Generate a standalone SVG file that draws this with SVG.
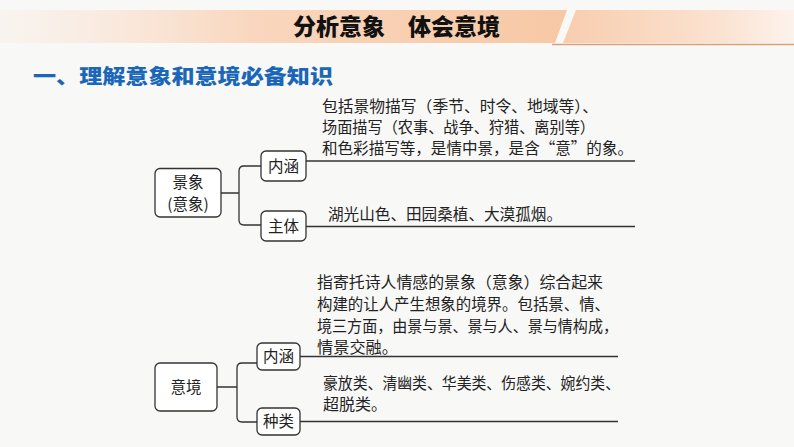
<svg xmlns="http://www.w3.org/2000/svg" width="794" height="447" viewBox="0 0 794 447">
<defs>
<linearGradient id="bandL" x1="0" y1="0" x2="1" y2="0">
<stop offset="0" stop-color="#fbe3d2" stop-opacity="0.2"/>
<stop offset="0.45" stop-color="#f9d6bd"/>
<stop offset="1" stop-color="#f7c8a5"/>
</linearGradient>
<linearGradient id="bandR" x1="0" y1="0" x2="1" y2="0">
<stop offset="0" stop-color="#f8cdae"/>
<stop offset="0.7" stop-color="#fbe3d2"/>
<stop offset="1" stop-color="#fdf3ec"/>
</linearGradient>
<linearGradient id="lineL" x1="0" y1="0" x2="1" y2="0">
<stop offset="0" stop-color="#e6c3a8" stop-opacity="0.3"/>
<stop offset="1" stop-color="#d6a07a"/>
</linearGradient>
<style>
.box{fill:#ffffff;stroke:#333333;stroke-width:1.3}
.lbl{font-family:"Noto Sans CJK SC","Noto Sans CJK JP",sans-serif;font-size:15.5px;fill:#222222;text-anchor:middle}
.body{font-family:"Noto Sans CJK SC","Noto Sans CJK JP",sans-serif;font-size:15.5px;fill:#222222}
.conn{fill:none;stroke:#333333;stroke-width:1.3}
</style>
</defs>
<rect x="0" y="0" width="794" height="447" fill="#f8f8f7"/>
<g id="banner">
<polygon points="0,10 567,10 555,43 0,43" fill="url(#bandL)"/>
<polygon points="576,10 794,10 794,43 563,43" fill="url(#bandR)"/>
<line x1="0" y1="6" x2="578" y2="6" stroke="url(#lineL)" stroke-width="1.5"/>
<line x1="552" y1="44.5" x2="794" y2="44.5" stroke="#d6a07a" stroke-width="1.5"/>
<text x="396.5" y="35" font-family="'Noto Sans CJK SC',sans-serif" font-size="22.5" font-weight="900" fill="#111111" text-anchor="middle" textLength="207" lengthAdjust="spacingAndGlyphs">分析意象　体会意境</text>
</g>
<text id="subtitle" x="33" y="84" font-family="'Noto Sans CJK SC',sans-serif" font-size="20" font-weight="900" fill="#1a66b8" textLength="300" lengthAdjust="spacingAndGlyphs">一、理解意象和意境必备知识</text>
<g id="connectors">
<path class="conn" d="M221,193 H239 M261,166 H244 Q239,166 239,171 V220 Q239,225 244,225 H261"/>
<line class="conn" x1="306" y1="161" x2="635" y2="161"/>
<line class="conn" x1="306" y1="226.5" x2="635" y2="226.5"/>
<path class="conn" d="M217,387 H237 M257,363 H242 Q237,363 237,368 V417 Q237,422 242,422 H257"/>
<line class="conn" x1="300" y1="356.5" x2="618" y2="356.5"/>
<line class="conn" x1="300" y1="421.5" x2="618" y2="421.5"/>
</g>
<g id="node-jingxiang">
<rect class="box" x="155" y="168.5" width="66" height="48.5" rx="5"/>
<text class="lbl" x="188" y="188">景象</text>
<text class="lbl" x="188" y="210">(意象)</text>
</g>
<g id="node-neihan1">
<rect class="box" x="261" y="151" width="45" height="30" rx="5"/>
<text class="lbl" x="283.5" y="172">内涵</text>
</g>
<g id="node-zhuti">
<rect class="box" x="261" y="211" width="45" height="30" rx="5"/>
<text class="lbl" x="283.5" y="232">主体</text>
</g>
<g id="text-neihan1">
<text class="body" x="322" y="112" textLength="276" lengthAdjust="spacingAndGlyphs">包括景物描写（季节、时令、地域等）、</text>
<text class="body" x="322" y="133" textLength="273" lengthAdjust="spacingAndGlyphs">场面描写（农事、战争、狩猎、离别等）</text>
<text class="body" x="322" y="154" textLength="311" lengthAdjust="spacingAndGlyphs">和色彩描写等，是情中景，是含“意”的象。</text>
</g>
<g id="text-zhuti">
<text class="body" x="328" y="219.5" textLength="234" lengthAdjust="spacingAndGlyphs">湖光山色、田园桑植、大漠孤烟。</text>
</g>
<g id="node-yijing">
<rect class="box" x="155" y="363" width="62" height="48" rx="5"/>
<text class="lbl" x="186" y="392.5">意境</text>
</g>
<g id="node-neihan2">
<rect class="box" x="257" y="343" width="43" height="27" rx="5"/>
<text class="lbl" x="278.5" y="362">内涵</text>
</g>
<g id="node-zhonglei">
<rect class="box" x="257" y="408" width="43" height="27" rx="5"/>
<text class="lbl" x="278.5" y="427">种类</text>
</g>
<g id="text-neihan2">
<text class="body" x="317" y="288" textLength="286" lengthAdjust="spacingAndGlyphs">指寄托诗人情感的景象（意象）综合起来</text>
<text class="body" x="317" y="310" textLength="293" lengthAdjust="spacingAndGlyphs">构建的让人产生想象的境界。包括景、情、</text>
<text class="body" x="317" y="332" textLength="301" lengthAdjust="spacingAndGlyphs">境三方面，由景与景、景与人、景与情构成，</text>
<text class="body" x="317" y="353" textLength="81" lengthAdjust="spacingAndGlyphs">情景交融。</text>
</g>
<g id="text-zhonglei">
<text class="body" x="323" y="389" textLength="297" lengthAdjust="spacingAndGlyphs">豪放类、清幽类、华美类、伤感类、婉约类、</text>
<text class="body" x="323" y="410" textLength="64" lengthAdjust="spacingAndGlyphs">超脱类。</text>
</g>
</svg>
